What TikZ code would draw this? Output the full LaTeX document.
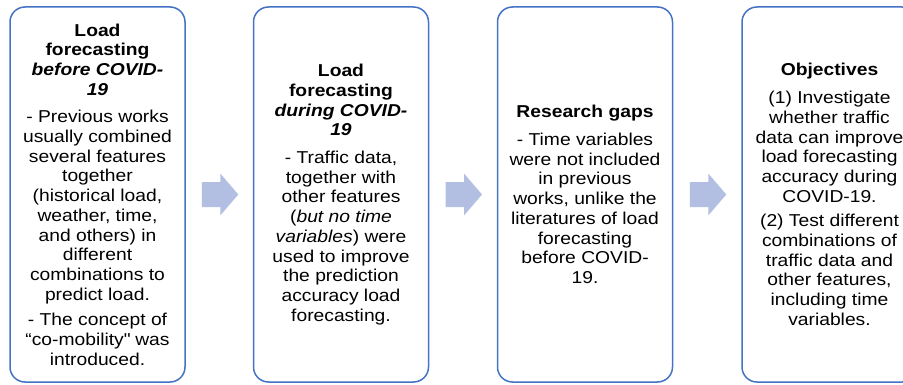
\documentclass[tikz,border=0pt]{standalone}
\usepackage{fontspec}
\setmainfont[FakeStretch=1.12]{Liberation Sans}
\usetikzlibrary{calc}
\definecolor{boxblue}{HTML}{4472C4}
\definecolor{arrowblue}{HTML}{B3BFE2}
\newcommand\straightquote{\XeTeXglyph\XeTeXcharglyph"22\relax}
\newcommand\myblockarrow[1]{%
  \fill[arrowblue] ($(#1)+(-17.5,12.5)$) -- ($(#1)+(1,12.5)$) -- ($(#1)+(1,21)$)
    -- ($(#1)+(19,0)$) -- ($(#1)+(1,-21)$) -- ($(#1)+(1,-12.5)$)
    -- ($(#1)+(-17.5,-12.5)$) -- cycle;}
\begin{document}
\begin{tikzpicture}[x=1pt,y=1pt,
  stagebox/.style={draw=boxblue, line width=1.5pt, rounded corners=15pt,
    minimum width=175pt, minimum height=375pt, inner sep=0pt, align=center,
    fill=white, font=\fontsize{17.2}{19.7}\selectfont}]
\useasboundingbox (0,0) rectangle (903,384);
\clip (0,0) rectangle (903,384);
\node[stagebox] (b1) at (97.5,189.5) {%
  \textbf{Load}\\ \textbf{forecasting}\\ \textbf{\textit{before COVID-}}\\ \textbf{\textit{19}}\\[8pt]
  - Previous works\\ usually combined\\ several features\\ together\\ (historical load,\\
  weather, time,\\ and others) in\\ different\\ combinations to\\ predict load.\\[6pt]
  - The concept of\\ “co-mobility\straightquote{} was\\ introduced.};
\node[stagebox] (b2) at (341,189.5) {%
  \textbf{Load}\\ \textbf{forecasting}\\ \textbf{\textit{during COVID-}}\\ \textbf{\textit{19}}\\[8pt]
  - Traffic data,\\ together with\\ other features\\ (\textit{but no time}\\
  \textit{variables}) were\\ used to improve\\ the prediction\\ accuracy load\\ forecasting.};
\node[stagebox] (b3) at (585,189.5) {%
  \textbf{Research gaps}\\[8pt]
  - Time variables\\ were not included\\ in previous\\ works, unlike the\\
  literatures of load\\ forecasting\\ before COVID-\\ 19.};
\node[stagebox] (b4) at (829.5,189.5) {%
  \textbf{Objectives}\\[8pt]
  (1) Investigate\\ whether traffic\\ data can improve\\ load forecasting\\
  accuracy during\\ COVID-19.\\[5pt]
  (2) Test different\\ combinations of\\ traffic data and\\ other features,\\
  including time\\ variables.};
\coordinate (m1) at ($(b1.east)!0.5!(b2.west)$);
\coordinate (m2) at ($(b2.east)!0.5!(b3.west)$);
\coordinate (m3) at ($(b3.east)!0.5!(b4.west)$);
\myblockarrow{m1}
\myblockarrow{m2}
\myblockarrow{m3}
\end{tikzpicture}
\end{document}
